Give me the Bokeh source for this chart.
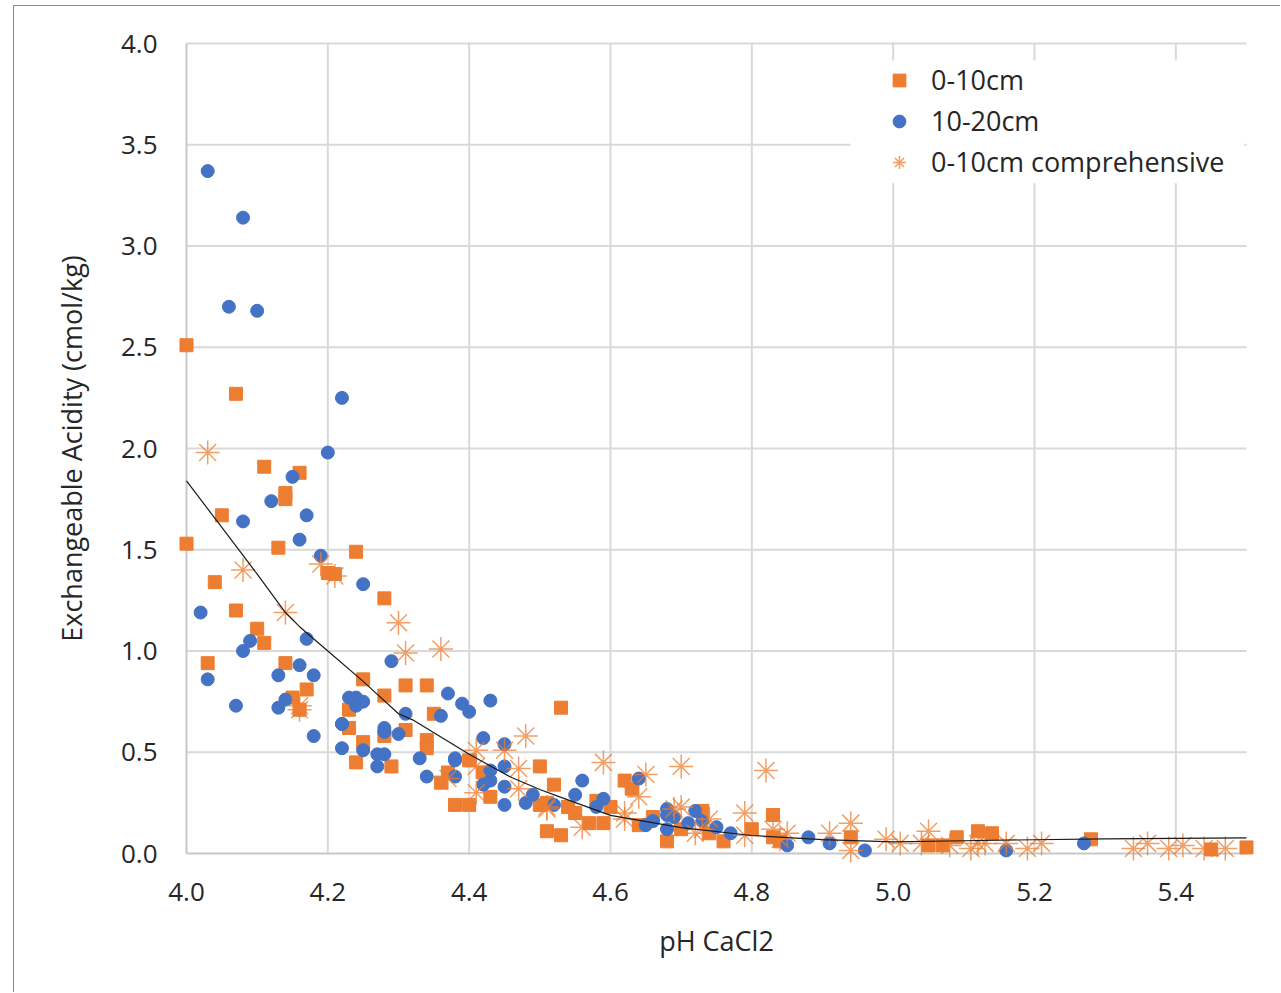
from bokeh.plotting import figure
from bokeh.models import Range1d, FixedTicker, PrintfTickFormatter, Legend, LegendItem, BoxAnnotation
from bokeh.embed import file_html
from bokeh.resources import INLINE

# ---------------- data ----------------
x_ticks = [4.0, 4.2, 4.4, 4.6, 4.8, 5.0, 5.2, 5.4]
y_ticks = [0.0, 0.5, 1.0, 1.5, 2.0, 2.5, 3.0, 3.5, 4.0]
x_min, x_max = 4.0, 5.5
y_min, y_max = 0.0, 4.0

# 0-10cm (squares)
sq_x = [4.00, 4.07, 4.11, 4.16, 4.14, 4.14, 4.05, 4.00, 4.13, 4.24, 4.20, 4.21,
        4.04, 4.07, 4.10, 4.11, 4.28, 4.03, 4.14, 4.17, 4.15, 4.16, 4.23, 4.25,
        4.28, 4.31, 4.34, 4.35, 4.23, 4.31, 4.28, 4.25, 4.34, 4.34, 4.24, 4.29,
        4.37, 4.36, 4.40, 4.42, 4.38, 4.40, 4.43, 4.50, 4.52, 4.50, 4.51, 4.53,
        4.53, 4.51, 4.54, 4.55, 4.57, 4.58, 4.59, 4.60, 4.62, 4.63, 4.64, 4.66,
        4.68, 4.70, 4.73, 4.74, 4.76, 4.80, 4.83, 4.83, 4.84, 4.94, 5.05, 5.07,
        5.09, 5.12, 5.14, 5.28, 5.45, 5.50]
sq_y = [2.51, 2.27, 1.91, 1.88, 1.78, 1.75, 1.67, 1.53, 1.51, 1.49, 1.385, 1.38,
        1.34, 1.20, 1.11, 1.04, 1.26, 0.94, 0.94, 0.81, 0.77, 0.71, 0.71, 0.86,
        0.78, 0.83, 0.83, 0.69, 0.62, 0.61, 0.58, 0.55, 0.56, 0.52, 0.45, 0.43,
        0.40, 0.35, 0.46, 0.40, 0.24, 0.24, 0.28, 0.43, 0.34, 0.24, 0.11, 0.72,
        0.09, 0.25, 0.23, 0.20, 0.15, 0.26, 0.15, 0.23, 0.36, 0.32, 0.14, 0.18,
        0.06, 0.12, 0.21, 0.10, 0.06, 0.12, 0.19, 0.08, 0.06, 0.08, 0.04, 0.04,
        0.08, 0.11, 0.10, 0.07, 0.02, 0.03]

# 10-20cm (circles)
ci_x = [4.03, 4.08, 4.06, 4.10, 4.22, 4.20, 4.15, 4.12, 4.17, 4.08, 4.16, 4.19,
        4.25, 4.02, 4.17, 4.09, 4.08, 4.29, 4.03, 4.13, 4.16, 4.18, 4.07, 4.13,
        4.14, 4.23, 4.24, 4.25, 4.24, 4.22, 4.31, 4.37, 4.39, 4.40, 4.43, 4.36,
        4.18, 4.22, 4.22, 4.25, 4.28, 4.28, 4.30, 4.27, 4.28, 4.27, 4.33, 4.34,
        4.38, 4.38, 4.38, 4.42, 4.45, 4.45, 4.43, 4.42, 4.43, 4.45, 4.45, 4.48,
        4.49, 4.52, 4.55, 4.56, 4.59, 4.58, 4.64, 4.65, 4.66, 4.68, 4.68, 4.68,
        4.69, 4.71, 4.72, 4.73, 4.75, 4.77, 4.85, 4.88, 4.91, 4.96, 5.16, 5.27]
ci_y = [3.37, 3.14, 2.70, 2.68, 2.25, 1.98, 1.86, 1.74, 1.67, 1.64, 1.55, 1.47,
        1.33, 1.19, 1.06, 1.05, 1.00, 0.95, 0.86, 0.88, 0.93, 0.88, 0.73, 0.72,
        0.76, 0.77, 0.77, 0.75, 0.73, 0.64, 0.69, 0.79, 0.74, 0.70, 0.755, 0.68,
        0.58, 0.64, 0.52, 0.51, 0.62, 0.60, 0.59, 0.49, 0.49, 0.43, 0.47, 0.38,
        0.47, 0.46, 0.38, 0.57, 0.54, 0.43, 0.41, 0.34, 0.36, 0.33, 0.24, 0.25,
        0.29, 0.24, 0.29, 0.36, 0.27, 0.23, 0.37, 0.14, 0.16, 0.22, 0.19, 0.12,
        0.18, 0.15, 0.21, 0.16, 0.13, 0.10, 0.04, 0.08, 0.05, 0.015, 0.015, 0.05]

# 0-10cm comprehensive (asterisks)
st_x = [4.03, 4.08, 4.14, 4.16, 4.19, 4.21, 4.30, 4.31, 4.36, 4.16, 4.37, 4.41,
        4.41, 4.41, 4.45, 4.47, 4.48, 4.47, 4.51, 4.59, 4.65, 4.70, 4.82, 4.51,
        4.56, 4.62, 4.64, 4.62, 4.69, 4.70, 4.72, 4.73, 4.74, 4.79, 4.79, 4.85,
        4.83, 4.84, 4.91, 4.94, 4.94, 4.99, 5.01, 5.04, 5.05, 5.08, 5.11, 5.12,
        5.13, 5.16, 5.19, 5.21, 5.34, 5.36, 5.39, 5.41, 5.44, 5.47]
st_y = [1.98, 1.40, 1.19, 0.71, 1.43, 1.37, 1.14, 0.99, 1.01, 0.73, 0.37, 0.51,
        0.43, 0.30, 0.51, 0.42, 0.58, 0.32, 0.23, 0.45, 0.39, 0.43, 0.41, 0.22,
        0.13, 0.20, 0.28, 0.17, 0.22, 0.23, 0.10, 0.12, 0.17, 0.20, 0.09, 0.10,
        0.12, 0.07, 0.10, 0.15, 0.015, 0.07, 0.05, 0.05, 0.11, 0.04, 0.025, 0.05,
        0.05, 0.05, 0.025, 0.05, 0.025, 0.05, 0.025, 0.04, 0.025, 0.025]

# fitted curve
fit_x = [4.00, 4.05, 4.10, 4.14, 4.16, 4.20, 4.25, 4.30, 4.32, 4.40, 4.46,
         4.50, 4.53, 4.60, 4.70, 4.80, 4.90, 5.00, 5.10, 5.20, 5.30, 5.40, 5.50]
fit_y = [1.84, 1.61, 1.38, 1.19, 1.12, 1.00, 0.85, 0.69, 0.66, 0.49, 0.375,
         0.316, 0.277, 0.188, 0.128, 0.089, 0.069, 0.057, 0.063, 0.068, 0.072, 0.075, 0.077]

# ---------------- layout ----------------
FONT = "Open Sans"
TEXT = "#262626"
OX, OY = 14, 6                             # page offset of the bordered chart area
W, H = 1281 - OX, 993 - OY
FL, FT, FR, FB = 172 - OX, 29 - OY, 21, 126
px_x = 1060 / (x_max - x_min)
px_y = 810 / (y_max - y_min)
pad = 14

p = figure(width=W, height=H, output_backend="svg", toolbar_location=None,
           x_range=Range1d(x_min - pad / px_x, x_max + pad / px_x),
           y_range=Range1d(y_min - pad / px_y, y_max + pad / px_y),
           min_border_left=FL, min_border_right=FR, min_border_top=FT, min_border_bottom=FB,
           styles={"margin-left": "13px", "margin-top": "5px",
                   "border-left": "1px solid #8a8a8a", "border-top": "1px solid #8a8a8a"})
p.outline_line_color = None
p.background_fill_color = "white"
p.border_fill_color = "white"
p.xgrid.visible = False
p.ygrid.visible = False

grid_color = "#d9d9d9"
p.segment(x0=x_ticks[1:], y0=[y_min] * (len(x_ticks) - 1), x1=x_ticks[1:], y1=[y_max] * (len(x_ticks) - 1),
          line_color=grid_color, line_width=2)
p.segment(x0=[x_min] * (len(y_ticks) - 1), y0=y_ticks[1:], x1=[x_max] * (len(y_ticks) - 1), y1=y_ticks[1:],
          line_color=grid_color, line_width=2)
p.segment(x0=[x_min, x_min], y0=[y_min, y_min], x1=[x_min, x_max], y1=[y_max, y_min],
          line_color="#c8c8c8", line_width=2)

for ax in (p.xaxis[0], p.yaxis[0]):
    ax.axis_line_color = None
    ax.major_tick_line_color = None
    ax.minor_tick_line_color = None
    ax.major_tick_out = 0
    ax.major_tick_in = 0
    ax.major_label_text_font = FONT
    ax.major_label_text_font_size = "26px"
    ax.major_label_text_color = TEXT
    ax.axis_label_text_font = FONT
    ax.axis_label_text_font_size = "27px"
    ax.axis_label_text_color = TEXT
    ax.axis_label_text_font_style = "normal"
    ax.formatter = PrintfTickFormatter(format="%.1f")

p.xaxis[0].ticker = FixedTicker(ticks=x_ticks)
p.yaxis[0].ticker = FixedTicker(ticks=y_ticks)
p.xaxis[0].axis_label = "pH CaCl2"
p.yaxis[0].axis_label = "Exchangeable Acidity (cmol/kg)"
p.xaxis[0].major_label_standoff = 15
p.yaxis[0].major_label_standoff = 15
p.xaxis[0].axis_label_standoff = 18
p.yaxis[0].axis_label_standoff = 28

# legend background (white box hiding gridlines)
p.add_layout(BoxAnnotation(left=4.94, right=5.497, top=3.916, bottom=3.31,
                           fill_color="white", fill_alpha=1, line_color=None))

orange = "#ED7D31"
blue = "#4472C4"
r_sq = p.scatter(sq_x, sq_y, marker="square", size=13, fill_color=orange, line_color=orange)
r_ci = p.scatter(ci_x, ci_y, marker="circle", size=13, fill_color=blue, line_color=blue)
r_st = p.scatter(st_x, st_y, marker="asterisk", size=24, line_color=orange, line_width=1.5, line_alpha=0.75)
p.line(fit_x, fit_y, line_color="#1a1a1a", line_width=1.2)

legend = Legend(items=[LegendItem(label="0-10cm", renderers=[r_sq]),
                       LegendItem(label="10-20cm", renderers=[r_ci]),
                       LegendItem(label="0-10cm comprehensive", renderers=[r_st])],
                location=(711, 687), orientation="vertical")
legend.background_fill_alpha = 0
legend.border_line_color = None
legend.padding = 4
legend.margin = 0
legend.spacing = 4
legend.glyph_width = 32
legend.glyph_height = 32
legend.label_height = 32
legend.label_standoff = 16
legend.label_text_font = FONT
legend.label_text_font_size = "27px"
legend.label_text_color = TEXT
p.add_layout(legend, "center")

open("out.html", "w").write(file_html(p, INLINE))
